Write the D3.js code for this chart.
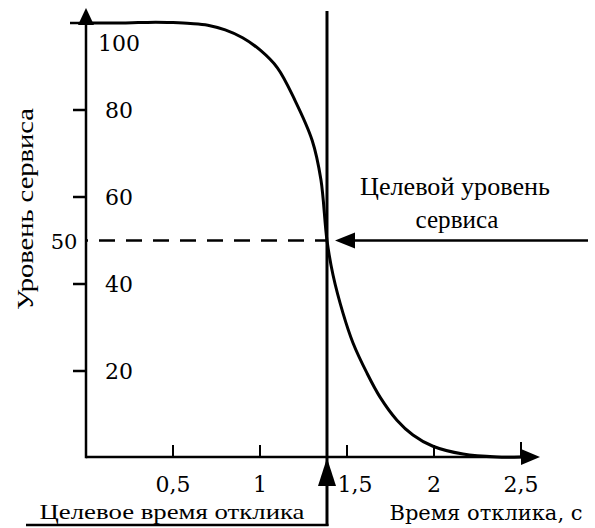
<!DOCTYPE html>
<html>
<head>
<meta charset="utf-8">
<script src="https://cdn.jsdelivr.net/npm/d3@7"></script>
<style>
  html, body { margin: 0; padding: 0; background: #fff; }
  svg { display: block; }
  .num { font-family: "DejaVu Serif", "Liberation Serif", "Noto Serif", "Times New Roman", Times, serif; }
  .txt { font-family: "Liberation Serif", "Times New Roman", Tinos, Times, "Noto Serif", "DejaVu Serif", serif; }
</style>
</head>
<body>
<script>
// Service level (%) vs. response time (s): S-shaped curve
const times        = [0, 0.1, 0.2, 0.3, 0.4, 0.5, 0.6, 0.7, 0.8, 0.9, 1.0, 1.1, 1.2, 1.3, 1.35, 1.385, 1.42, 1.477, 1.534, 1.615, 1.69, 1.787, 1.879, 1.994, 2.167, 2.362, 2.5];
const serviceLevel = [100, 100, 100, 100.1, 100.2, 100.1, 99.9, 99.5, 98.4, 96.6, 93.8, 89.7, 82.3, 73, 64, 50, 42, 33.3, 26.5, 19.5, 14.0, 8.7, 5.3, 2.7, 0.9, 0.2, 0];

const xTicks = [0.5, 1, 1.5, 2, 2.5];
const xTickLabels = ["0,5", "1", "1,5", "2", "2,5"];
const yTicks = [20, 40, 60, 80, 100];
const yTickLabels = ["20", "40", "60", "80", "100"];

const targetTime = 1.385;
const targetLevel = 50;
const targetLevelLabel = "50";

const yTitle = "Уровень сервиса";
const xTitle = "Время отклика, с";
const levelNote = ["Целевой уровень", "сервиса"];
const timeNote = "Целевое время отклика";

const W = 595, H = 528;
const svg = d3.select("body").append("svg").attr("width", W).attr("height", H);
svg.append("rect").attr("width", W).attr("height", H).attr("fill", "#fff");

const x = d3.scaleLinear().domain([0, 2.5]).range([86, 521]);
const y = d3.scaleLinear().domain([0, 100]).range([458, 23]);

const axisY = 457;        // baseline of the time axis
const axisX = x(0);

// arrowhead helper: tip at (tx,ty), pointing in direction (dx,dy)
function arrow(tx, ty, dx, dy, len, half) {
  const bx = tx - dx * len, by = ty - dy * len;
  const px = -dy * half, py = dx * half;
  svg.append("path")
    .attr("d", `M${tx},${ty}L${bx + px},${by + py}L${bx - px},${by - py}Z`)
    .attr("fill", "#000");
}

// ---- axes ----
svg.append("line").attr("x1", axisX).attr("x2", 530).attr("y1", axisY).attr("y2", axisY)
  .attr("stroke", "#000").attr("stroke-width", 2.5);
arrow(540, axisY, 1, 0, 19, 8);

svg.append("line").attr("x1", axisX).attr("x2", axisX).attr("y1", axisY + 1.2).attr("y2", 18)
  .attr("stroke", "#000").attr("stroke-width", 2.5);
arrow(axisX, 8, 0, -1, 17, 8);

// y ticks (left of the axis) and labels (inside)
svg.selectAll(".ytick").data(yTicks).join("line")
  .attr("x1", d => d === 100 ? axisX - 16 : axisX - 13).attr("x2", axisX)
  .attr("y1", d => y(d)).attr("y2", d => y(d))
  .attr("stroke", "#000").attr("stroke-width", 2.5);

svg.selectAll(".ylab").data(yTicks).join("text")
  .attr("class", "num")
  .attr("x", 119)
  .attr("y", d => (d === 100 ? y(d) + 20 : y(d)) + 8)
  .attr("text-anchor", "middle")
  .attr("font-size", 22)
  .text((d, i) => yTickLabels[i]);

// x ticks (pointing up) and labels
svg.selectAll(".xtick").data(xTicks).join("line")
  .attr("x1", d => x(d)).attr("x2", d => x(d))
  .attr("y1", axisY).attr("y2", d => axisY - (d === 2.5 ? 15 : 12))
  .attr("stroke", "#000").attr("stroke-width", 2);

svg.selectAll(".xlab").data(xTicks).join("text")
  .attr("class", "num")
  .attr("x", d => x(d) + (Math.abs(x(d) - x(targetTime)) < 25 ? 8 : 0))
  .attr("y", 492)
  .attr("text-anchor", "middle")
  .attr("font-size", 22)
  .text((d, i) => xTickLabels[i]);

// ---- target service level: dashed guide + pointer arrow ----
svg.append("line")
  .attr("x1", axisX).attr("x2", x(targetTime))
  .attr("y1", y(targetLevel)).attr("y2", y(targetLevel))
  .attr("stroke", "#000").attr("stroke-width", 2.5)
  .attr("stroke-dasharray", "16,11").attr("stroke-dashoffset", 14);

svg.append("text")
  .attr("class", "num")
  .attr("x", 64).attr("y", y(targetLevel) + 8)
  .attr("text-anchor", "middle")
  .attr("font-size", 21)
  .text(targetLevelLabel);

svg.append("line")
  .attr("x1", x(targetTime) + 24).attr("x2", 588)
  .attr("y1", y(targetLevel)).attr("y2", y(targetLevel))
  .attr("stroke", "#000").attr("stroke-width", 2.5);
arrow(x(targetTime) + 8, y(targetLevel), -1, 0, 20, 8);

// ---- target response time: vertical line + pointer from below ----
const tx = x(targetTime);
svg.append("line").attr("x1", tx).attr("x2", tx).attr("y1", 11).attr("y2", 526)
  .attr("stroke", "#000").attr("stroke-width", 3);
arrow(tx, axisY + 1, 0, -1, 28, 9);
svg.append("line").attr("x1", 26).attr("x2", tx + 1.5).attr("y1", 525).attr("y2", 525)
  .attr("stroke", "#000").attr("stroke-width", 2.5);

// ---- service level curve ----
const pts = times.map((t, i) => [t, serviceLevel[i]]);
svg.append("path")
  .datum(pts)
  .attr("d", d3.line().x(d => x(d[0])).y(d => Math.min(y(d[1]), axisY)).curve(d3.curveCatmullRom.alpha(0.5)))
  .attr("fill", "none").attr("stroke", "#000").attr("stroke-width", 3);

// ---- titles and notes ----
svg.append("text")
  .attr("class", "txt")
  .attr("transform", "translate(33,209) rotate(-90)")
  .attr("text-anchor", "middle")
  .attr("font-size", 24)
  .attr("textLength", 202).attr("lengthAdjust", "spacingAndGlyphs")
  .text(yTitle);

svg.append("text")
  .attr("class", "num")
  .attr("x", 486).attr("y", 520)
  .attr("text-anchor", "middle")
  .attr("font-size", 21)
  .attr("textLength", 193).attr("lengthAdjust", "spacingAndGlyphs")
  .text(xTitle);

svg.append("text")
  .attr("class", "txt")
  .attr("x", 455).attr("y", 195)
  .attr("text-anchor", "middle")
  .attr("font-size", 25)
  .attr("textLength", 190).attr("lengthAdjust", "spacingAndGlyphs")
  .text(levelNote[0]);
svg.append("text")
  .attr("class", "txt")
  .attr("x", 457).attr("y", 228)
  .attr("text-anchor", "middle")
  .attr("font-size", 25)
  .attr("textLength", 83).attr("lengthAdjust", "spacingAndGlyphs")
  .text(levelNote[1]);

svg.append("text")
  .attr("class", "txt")
  .attr("x", 172).attr("y", 519)
  .attr("text-anchor", "middle")
  .attr("font-size", 22)
  .attr("textLength", 265).attr("lengthAdjust", "spacingAndGlyphs")
  .text(timeNote);
</script>
</body>
</html>
